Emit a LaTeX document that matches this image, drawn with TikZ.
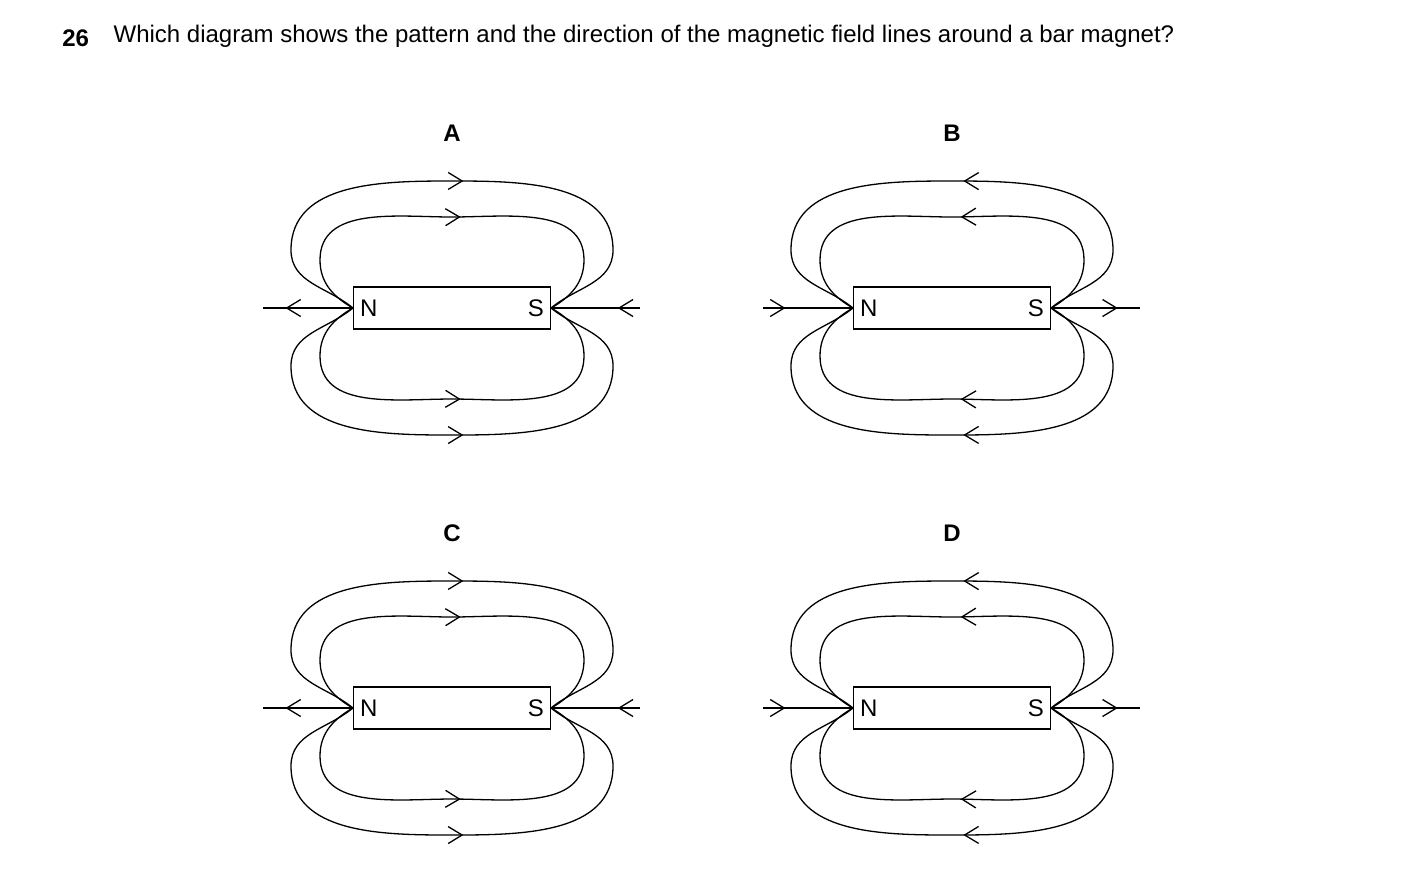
\documentclass[tikz,border=0pt]{standalone}
\usepackage{fontspec}
\setmainfont{Liberation Sans}
\usetikzlibrary{arrows.meta,decorations.markings}

\begin{document}
\begin{tikzpicture}[x=0.5pt,y=0.5pt,line width=0.65pt,
                    magnet/.style={draw,minimum width=98.5pt,minimum height=21pt,inner sep=0pt},
                    pole/.style={font=\fontsize{12}{14}\selectfont},
                    letter/.style={font=\fontsize{12}{14}\selectfont\bfseries},
                    field/.style={postaction={decorate,decoration={markings,
                        mark=at position #1 with {\dir{Straight Barb[length=7pt,width=8.5pt]}}}}}]
  \useasboundingbox (0,0) rectangle (1403,-891);

  % question
  \node[anchor=north west,font=\fontsize{12}{14}\selectfont\bfseries] (num) at (55,-22) {26};
  \node[anchor=north west,text width=617pt,align=justify,inner sep=0pt,
        font=\fontsize{12}{16}\selectfont] (question) at (113,-24)
    {Which diagram shows the pattern and the direction of the magnetic field lines around a bar magnet?};

  \foreach \lab/\cx/\cy/\kind/\dir in {A/452/308/a/\arrow, B/952/308/a/\arrowreversed,
                                       C/452/708/c/\arrow, D/952/708/c/\arrowreversed} {
    \begin{scope}[shift={(\cx,-\cy)}]
      \node[letter] (L\lab) at (0,175) {\lab};
      \node[magnet] (M\lab) at (0,0) {};
      \node[pole,anchor=west] (N\lab) at (M\lab.west) {N};
      \node[pole,anchor=east] (S\lab) at (M\lab.east) {S};
      \coordinate (left\lab) at (-189,0);
      \coordinate (right\lab) at (188,0);
      \draw[field=0.75] (M\lab.west) -- (left\lab);
      \draw[field=0.25] (right\lab) -- (M\lab.east);
      \ifx a\kind
        \foreach \s in {1,-1} {
          \draw[field=0.52] ([xshift=2pt,yshift=\s*10.5pt]M\lab.west) to[out=90*\s,in=180] (0,81*\s)
                            to[out=0,in=90*\s] ([xshift=-2pt,yshift=\s*10.5pt]M\lab.east);
          \draw[field=0.52] ([yshift=\s*5.5pt]M\lab.west) to[out=180,in=-90*\s] (-142,58*\s)
                            to[out=90*\s,in=180] (0,128*\s) to[out=0,in=90*\s] (142,58*\s)
                            to[out=-90*\s,in=0] ([yshift=\s*5.5pt]M\lab.east);
        }
      \else
        \foreach \s in {1,-1} {
          \draw[field=0.52] (M\lab.west) to[out=150*\s,in=-90*\s] (-132,48*\s)
                            to[out=90*\s,in=180] (0,91*\s) to[out=0,in=90*\s] (132,48*\s)
                            to[out=-90*\s,in=30*\s] (M\lab.east);
          \draw[field=0.52] (M\lab.west) to[out=140*\s,in=-90*\s] (-161,58*\s)
                            to[out=90*\s,in=180] (0,127*\s) to[out=0,in=90*\s] (161,58*\s)
                            to[out=-90*\s,in=40*\s] (M\lab.east);
        }
      \fi
    \end{scope}
  }
\end{tikzpicture}
\end{document}
